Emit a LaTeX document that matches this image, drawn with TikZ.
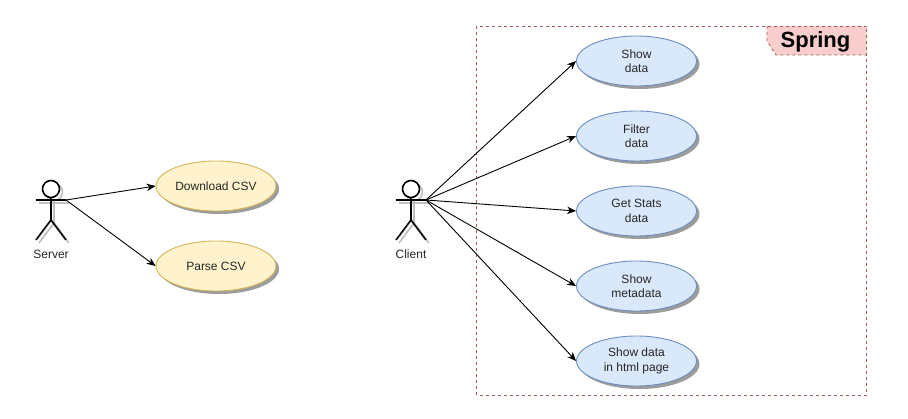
\documentclass[tikz,border=0pt]{standalone}
\usepackage{fontspec}
\setmainfont{Liberation Sans}
\usetikzlibrary{shapes.geometric,arrows.meta,shadows}
\definecolor{ybg}{HTML}{FFF2CC}
\definecolor{ybd}{HTML}{D6B656}
\definecolor{bbg}{HTML}{DAE8FC}
\definecolor{bbd}{HTML}{6C8EBF}
\definecolor{rbg}{HTML}{F8CECC}
\definecolor{rbd}{HTML}{A05A58}
\tikzset{
  usecase/.style={ellipse,draw,line width=0.9pt,minimum width=120pt,minimum height=50pt,inner sep=0pt,align=center,
    font=\fontsize{12}{14.5}\selectfont,text=black!85,
    drop shadow={shadow xshift=3pt,shadow yshift=-3pt,fill=black!55,opacity=0.7}},
  ycase/.style={usecase,fill=ybg,draw=ybd},
  bcase/.style={usecase,fill=bbg,draw=bbd},
  figure/.style={line width=1.6pt,black},
  figshadow/.style={line width=1.6pt,black!25},
  actorlabel/.style={font=\fontsize{12}{14}\selectfont,text=black!85},
  conn/.style={-{Stealth[length=9pt,width=7.5pt]},line width=0.9pt,black},
  frameline/.style={rbd,line width=0.8pt,dash pattern=on 3pt off 3pt},
}
\newcommand{\actorfig}[1]{%
  \draw[figshadow] (#1+3,192) circle (8.5) (#1+3,201)--(#1+3,223) (#1-12,203)--(#1+18,203) (#1-12,243)--(#1+3,223)--(#1+18,243);
  \draw[figure,fill=white] (#1,189) circle (8.5);
  \draw[figure] (#1,198)--(#1,220) (#1-15,200)--(#1+15,200) (#1-15,240)--(#1,220)--(#1+15,240);
}
\begin{document}
\begin{tikzpicture}[x=1pt,y=-1pt]
\useasboundingbox (0,0) rectangle (908,419);
\fill[white] (0,0) rectangle (908,419);
% Spring frame
\fill[rbg] (767,26)--(866.5,26)--(866.5,55)--(776,55)--(767,41)--cycle;
\draw[frameline] (476.5,26) rectangle (866.5,395);
\draw[frameline] (767,26)--(767,41)--(776,55)--(866.5,55);
\node[font=\bfseries\fontsize{22}{26}\selectfont,text=black] (spring) at (815.5,41.5) {Spring};
% actors
\actorfig{51}
\actorfig{411}
\node[actorlabel] (server) at (51,254) {Server};
\node[actorlabel] (client) at (411,254) {Client};
\coordinate (serverhand) at (66,200);
\coordinate (clienthand) at (426,200);
% use cases
\node[ycase] (dl) at (216,186) {Download CSV};
\node[ycase] (parse) at (216,266) {Parse CSV};
\node[bcase] (show) at (636.5,61) {Show\\data};
\node[bcase] (filter) at (636.5,136) {Filter\\data};
\node[bcase] (stats) at (636.5,211) {Get Stats\\data};
\node[bcase] (meta) at (636.5,286) {Show\\metadata};
\node[bcase] (html) at (636.5,361) {Show data\\in html page};
% connectors
\draw[conn] (serverhand)--(dl.west);
\draw[conn] (serverhand)--(parse.west);
\draw[conn] (clienthand)--(show.west);
\draw[conn] (clienthand)--(filter.west);
\draw[conn] (clienthand)--(stats.west);
\draw[conn] (clienthand)--(meta.west);
\draw[conn] (clienthand)--(html.west);
\end{tikzpicture}
\end{document}
